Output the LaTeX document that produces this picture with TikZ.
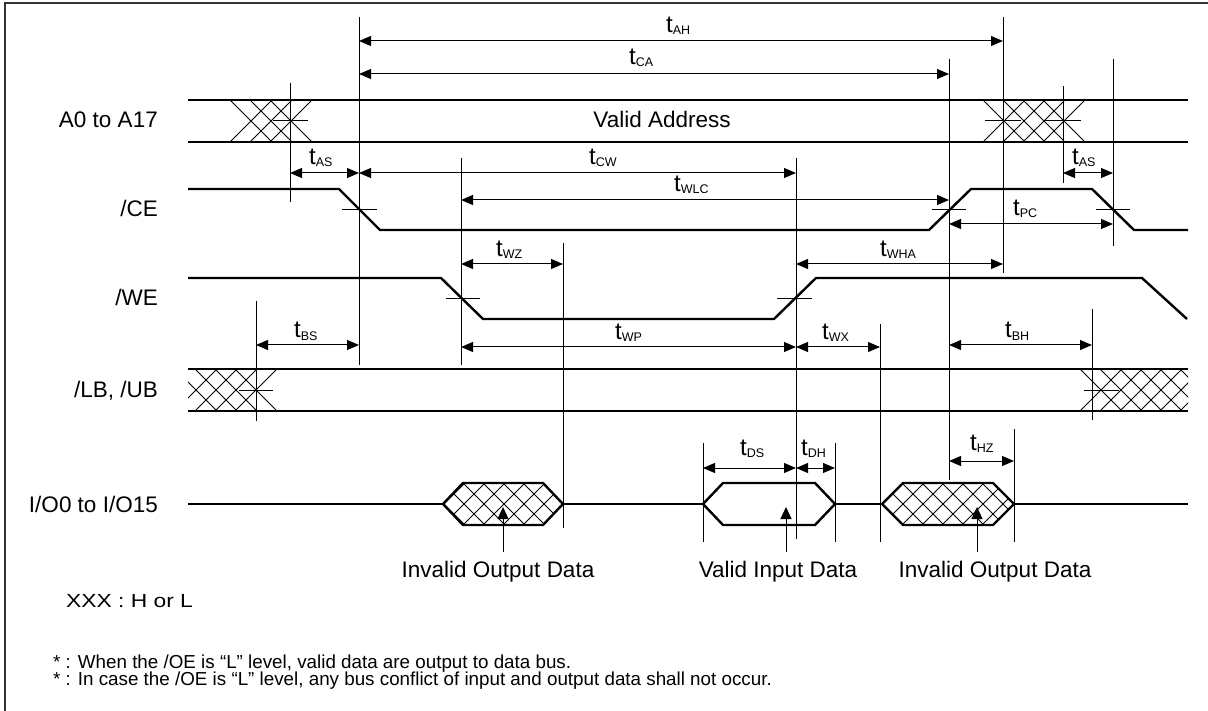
\documentclass[tikz,border=0pt]{standalone}
\usepackage{fontspec}
\setmainfont{Liberation Sans}
\usetikzlibrary{arrows.meta}
\newcommand{\tsub}[1]{t\raisebox{-2pt}{\fontsize{12.5}{12.5}\selectfont #1}}
\begin{document}
\begin{tikzpicture}[x=1pt,y=-1pt,
  sig/.style={line width=2.4pt, line join=miter},
  guide/.style={line width=1pt},
  hatch/.style={line width=0.9pt},
  tickmark/.style={line width=1pt},
  dim/.style={line width=1pt, {Triangle[length=12pt,width=10pt]}-{Triangle[length=12pt,width=10pt]}},
  uparrow/.style={line width=1pt, -{Triangle[length=12pt,width=11pt]}},
  big/.style={font=\fontsize{22.5}{24}\selectfont, inner sep=0pt},
  tlab/.style={font=\fontsize{24}{26}\selectfont, inner sep=0pt, anchor=base west},
  note/.style={font=\fontsize{18.8}{18.8}\selectfont, inner sep=0pt, anchor=base west}]
\useasboundingbox (0,0) rectangle (1208,711);
% frame
\draw[line width=2pt, black!80] (5,711) -- (5,3) -- (1208,3);

% signal names
\node[big, anchor=base east] (nA) at (158,128) {A0 to A17};
\node[big, anchor=base east] (nCE) at (158,217) {/CE};
\node[big, anchor=base east] (nWE) at (158,306) {/WE};
\node[big, anchor=base east] (nLB) at (158,397) {/LB, /UB};
\node[big, anchor=base east] (nIO) at (158,512) {I/O0 to I/O15};

% ---------- A0 to A17 ----------
\draw[sig] (188,100) -- (1188,100);
\draw[sig] (188,142) -- (1188,142);
\node[big, anchor=base] (va) at (662,128) {Valid Address};
\foreach \k in {0,1,2} {
  \draw[hatch] ({230+20*\k},100) -- ++(42,42);
  \draw[hatch] ({230+20*\k},142) -- ++(42,-42);
}
\foreach \k in {0,1,2,3} {
  \draw[hatch] ({983+20*\k},100) -- ++(42,42);
  \draw[hatch] ({983+20*\k},142) -- ++(42,-42);
}
\draw[tickmark] (273,121) -- (308,121);
\draw[tickmark] (985,121) -- (1021,121);
\draw[tickmark] (1045,121) -- (1081,121);

% ---------- /CE ----------
\draw[sig] (188,189) -- (339,189) -- (380,230) -- (929,230) -- (971,189) -- (1092,189) -- (1134,230) -- (1188,230);
\draw[tickmark] (342,210) -- (377,210);
\draw[tickmark] (932,210) -- (966,210);
\draw[tickmark] (1096,210) -- (1130,210);

% ---------- /WE ----------
\draw[sig] (188,278) -- (441,278) -- (483,319) -- (774,319) -- (816,278) -- (1142,278) -- (1187,319);
\draw[tickmark] (446,299) -- (480,299);
\draw[tickmark] (777,299) -- (812,299);

% ---------- /LB, /UB ----------
\draw[sig] (188,369) -- (1188,369);
\draw[sig] (188,411) -- (1188,411);
\begin{scope}
  \clip (188,360) rectangle (300,420);
  \foreach \k in {-1,0,1,2} {
    \draw[hatch] ({195+20*\k},369) -- ++(42,42);
    \draw[hatch] ({195+20*\k},411) -- ++(42,-42);
  }
\end{scope}
\begin{scope}
  \clip (1070,360) rectangle (1188,420);
  \foreach \k in {0,...,5} {
    \draw[hatch] ({1080+20*\k},369) -- ++(42,42);
    \draw[hatch] ({1080+20*\k},411) -- ++(42,-42);
  }
\end{scope}
\draw[tickmark] (239,390) -- (273,390);
\draw[tickmark] (1084,390) -- (1119,390);

% ---------- I/O ----------
\begin{scope}
  \clip (443,504) -- (463,483) -- (543,483) -- (563,504) -- (543,525) -- (463,525) -- cycle;
  \foreach \k in {-3,...,7} {
    \draw[hatch] ({443+20*\k},483) -- ++(42,42);
    \draw[hatch] ({443+20*\k},525) -- ++(42,-42);
  }
\end{scope}
\begin{scope}
  \clip (882,504) -- (903,483) -- (993,483) -- (1014,504) -- (993,525) -- (903,525) -- cycle;
  \foreach \k in {-3,...,7} {
    \draw[hatch] ({882+20*\k},483) -- ++(42,42);
    \draw[hatch] ({882+20*\k},525) -- ++(42,-42);
  }
\end{scope}
\draw[sig] (188,504) -- (443,504);
\draw[sig] (443,504) -- (463,483) -- (543,483) -- (563,504) -- (543,525) -- (463,525) -- cycle;
\draw[sig] (563,504) -- (703,504);
\draw[sig] (703,504) -- (723,483) -- (815,483) -- (835,504) -- (815,525) -- (723,525) -- cycle;
\draw[sig] (835,504) -- (882,504);
\draw[sig] (882,504) -- (903,483) -- (993,483) -- (1014,504) -- (993,525) -- (903,525) -- cycle;
\draw[sig] (1014,504) -- (1188,504);

\draw[uparrow] (503,552) -- (503,507);
\draw[uparrow] (786,552) -- (786,507);
\draw[uparrow] (977,552) -- (977,507);
\node[big, anchor=base] (l1) at (498,577) {Invalid Output Data};
\node[big, anchor=base] (l2) at (778,577) {Valid Input Data};
\node[big, anchor=base] (l3) at (995,577) {Invalid Output Data};

% ---------- guide lines ----------
\draw[guide] (290,83) -- (290,202);
\draw[guide] (359,17) -- (359,365);
\draw[guide] (461,158) -- (461,365);
\draw[guide] (563,243) -- (563,528);
\draw[guide] (796,158) -- (796,539);
\draw[guide] (949,59) -- (949,480);
\draw[guide] (1003,17) -- (1003,273);
\draw[guide] (1063,86) -- (1063,183);
\draw[guide] (1113,59) -- (1113,246);
\draw[guide] (880,324) -- (880,542);
\draw[guide] (256,301) -- (256,421);
\draw[guide] (1092,309) -- (1092,420);
\draw[guide] (703,443) -- (703,542);
\draw[guide] (835,443) -- (835,542);
\draw[guide] (1014,429) -- (1014,542);

% ---------- timing arrows ----------
\draw[dim] (359,41) -- (1003,41);
\draw[dim] (359,74) -- (949,74);
\draw[dim] (290,173) -- (359,173);
\draw[dim] (359,173) -- (796,173);
\draw[dim] (461,200) -- (949,200);
\draw[dim] (1063,173) -- (1113,173);
\draw[dim] (949,224) -- (1113,224);
\draw[dim] (461,264) -- (563,264);
\draw[dim] (796,264) -- (1003,264);
\draw[dim] (256,345) -- (359,345);
\draw[dim] (461,347) -- (796,347);
\draw[dim] (796,347) -- (880,347);
\draw[dim] (949,345) -- (1092,345);
\draw[dim] (703,468) -- (796,468);
\draw[dim] (796,468) -- (835,468);
\draw[dim] (949,461) -- (1014,461);

% ---------- timing labels ----------
\node[tlab] (tAH) at (666,33) {\tsub{AH}};
\node[tlab] (tCA) at (629,65) {\tsub{CA}};
\node[tlab] (tAS1) at (309,165) {\tsub{AS}};
\node[tlab] (tCW) at (589,165) {\tsub{CW}};
\node[tlab] (tWLC) at (674,192) {\tsub{WLC}};
\node[tlab] (tAS2) at (1072,165) {\tsub{AS}};
\node[tlab] (tPC) at (1013,216) {\tsub{PC}};
\node[tlab] (tWZ) at (496,257) {\tsub{WZ}};
\node[tlab] (tWHA) at (880,257) {\tsub{WHA}};
\node[tlab] (tBS) at (294,338) {\tsub{BS}};
\node[tlab] (tWP) at (615,340) {\tsub{WP}};
\node[tlab] (tWX) at (822,340) {\tsub{WX}};
\node[tlab] (tBH) at (1005,338) {\tsub{BH}};
\node[tlab] (tDS) at (740,455) {\tsub{DS}};
\node[tlab] (tDH) at (801,455) {\tsub{DH}};
\node[tlab] (tHZ) at (970,450) {\tsub{HZ}};

% ---------- notes ----------
\node[note, font=\fontsize{19}{19}\selectfont] (nx) at (66,607) {\scalebox{1.2}[1]{XXX : H or L}};
\node[note] (f1) at (53,668) {* : When the /OE is “L” level, valid data are output to data bus.};
\node[note] (f2) at (53,685) {* : In case the /OE is “L” level, any bus conflict of input and output data shall not occur.};
\end{tikzpicture}
\end{document}
